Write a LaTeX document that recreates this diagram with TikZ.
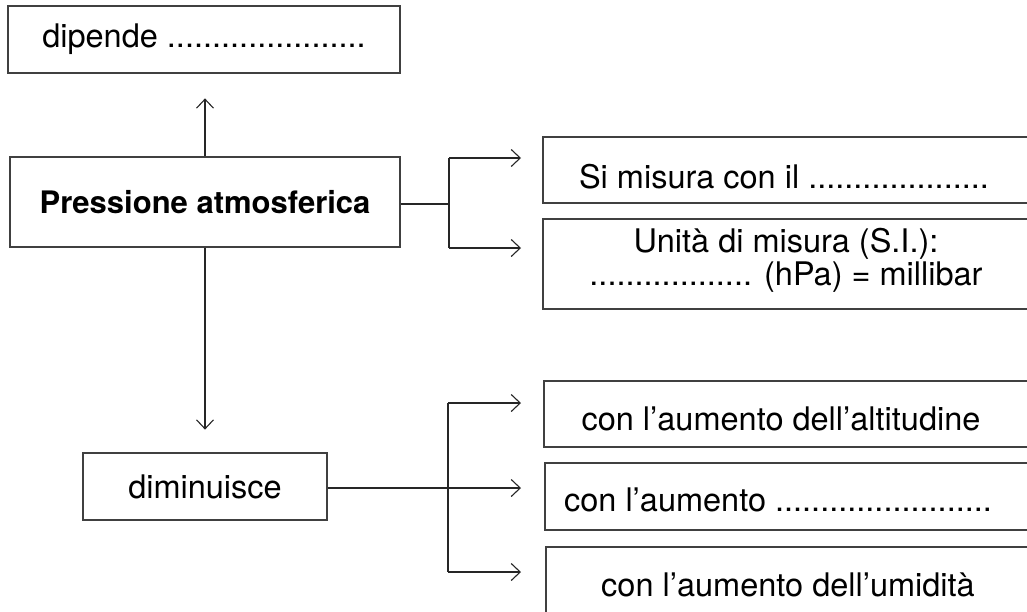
\documentclass[tikz,border=0pt]{standalone}
\usepackage{fontspec}
\setmainfont{TeX Gyre Heros}
\usetikzlibrary{arrows.meta}
\begin{document}
\begin{tikzpicture}[x=1pt,y=-1pt,
  box/.style={draw=black!75, line width=1.2pt, rectangle, inner sep=0pt,
    font=\fontsize{32.5}{36}\selectfont, align=center},
  txt/.style={font=\fontsize{32.5}{33}\selectfont, align=center, inner sep=0pt},
  conn/.style={draw=black!85, line width=1.2pt},
  arr/.style={conn, -{Straight Barb[length=9pt,width=17pt,line width=1.1pt]}}]
\useasboundingbox (0,0) rectangle (1027,611);
\fill[white] (0,0) rectangle (1027,611);
% nodes
\node[box, minimum width=392pt, minimum height=67pt] (dip) at (204,39.5) {dipende ......................};
\node[box, minimum width=390pt, minimum height=90pt, font=\fontsize{31}{36}\selectfont\bfseries] (pre) at (205,202) {Pressione atmosferica};
\node[box, minimum width=244pt, minimum height=67pt] (dim) at (205,486.5) {diminuisce};
\node[box, minimum width=500pt, minimum height=66pt] (mis) at (793,170) {};
\node[txt] (tmis) at (784,177) {Si misura con il ....................};
\node[box, minimum width=500pt, minimum height=90pt] (uni) at (793,264) {};
\node[txt] (tuni) at (786,260) {Unità di misura (S.I.):\\.................. (hPa) = millibar};
\node[box, minimum width=500pt, minimum height=66pt] (alt) at (794,414) {};
\node[txt] (talt) at (781,419) {con l’aumento dell’altitudine};
\node[box, minimum width=500pt, minimum height=67pt] (aum) at (795,496.5) {};
\node[txt] (taum) at (778,500) {con l’aumento ........................};
\node[box, minimum width=500pt, minimum height=80pt] (umi) at (796,587) {};
\node[txt] (tumi) at (788,585) {con l’aumento dell’umidità};
% junction coordinates
\coordinate (j1) at (449,204);
\coordinate (j1t) at (449,158);
\coordinate (j1b) at (449,248);
\coordinate (e1) at (521,158);
\coordinate (e2) at (521,248);
\coordinate (j2t) at (448,403);
\coordinate (j2b) at (448,572);
\coordinate (e3) at (521,403);
\coordinate (e4) at (521,488);
\coordinate (e5) at (521,572);
% connectors
\draw[arr] (pre.north) -- ++(0,-58) coordinate (up);
\draw[arr] (pre.south) -- ++(0,182) coordinate (down);
\draw[conn] (pre.east |- j1) -- (j1);
\draw[conn] (j1t) -- (j1b);
\draw[arr] (j1t) -- (e1);
\draw[arr] (j1b) -- (e2);
\draw[arr] (dim.east |- e4) -- (e4);
\draw[conn] (j2t) -- (j2b);
\draw[arr] (j2t) -- (e3);
\draw[arr] (j2b) -- (e5);
\end{tikzpicture}
\end{document}
